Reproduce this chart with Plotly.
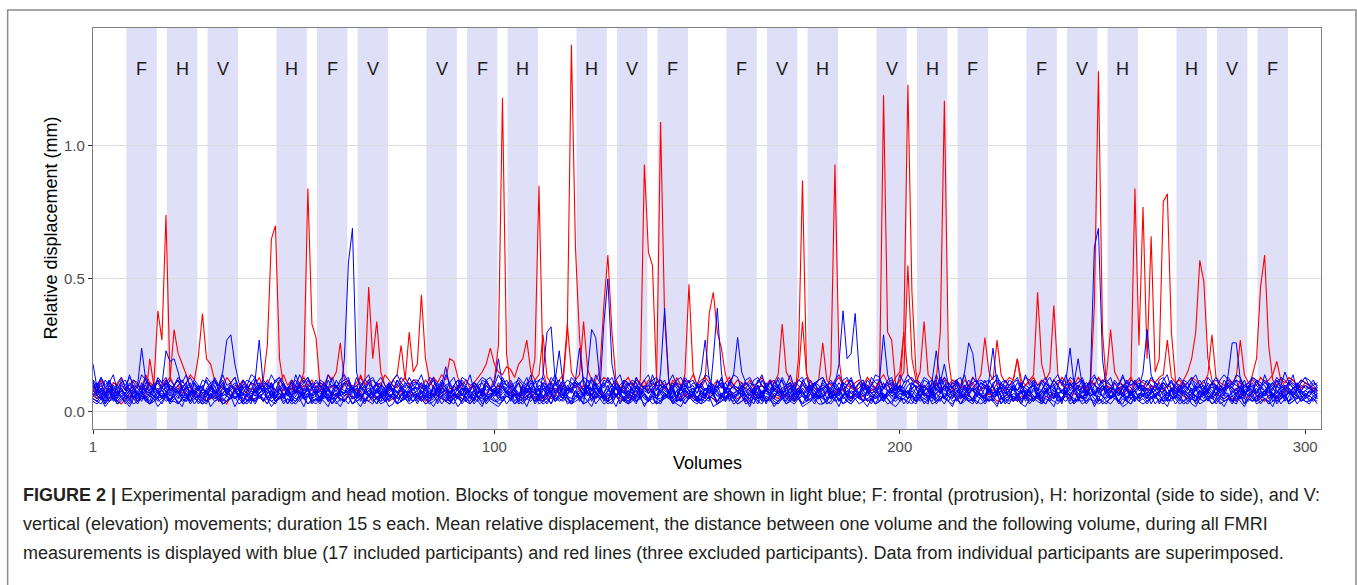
import plotly.graph_objects as go

# ---------------- data (relative displacement, in hundredths of mm) ----------------
block_starts = [9.25, 19.25, 29.25, 46.25, 56.25, 66.25, 83.25, 93.25, 103.25,
                120.25, 130.25, 140.25, 157.25, 167.25, 177.25, 194.25, 204.25, 214.25,
                231.25, 241.25, 251.25, 268.25, 278.25, 288.25]
block_labels = ["F", "H", "V", "H", "F", "V", "V", "F", "H", "H", "V", "F",
                "F", "V", "H", "V", "H", "F", "F", "V", "H", "H", "V", "F"]
block_len = 7.5

x_ticks = [1, 100, 200, 300]
y_ticks = [0.0, 0.5, 1.0]
y_tick_text = ["0.0", "0.5", "1.0"]

red1 = [7,5,6,4,5,6,4,3,5,6,5,4,6,5,20,10,38,27,74,12,
        31,22,18,14,9,6,5,7,4,5,6,4,5,3,6,5,7,4,6,5,
        5,6,4,7,8,6,5,9,6,12,8,10,15,84,33,28,10,6,5,7,
        6,5,4,7,5,6,8,5,4,6,5,7,6,4,5,6,8,5,6,7,
        5,6,4,5,7,6,5,4,6,5,7,5,4,6,5,8,6,7,9,12,
        25,118,22,9,6,7,5,6,8,5,6,4,7,5,6,9,12,30,138,62,
        28,10,7,6,5,8,6,5,7,6,5,4,6,5,7,9,12,8,8,10,
        109,35,12,8,6,5,7,5,6,4,5,7,6,5,4,6,5,7,6,5,
        6,4,5,7,5,6,4,5,6,5,7,6,5,4,20,87,15,8,6,5,
        6,7,15,93,20,8,6,5,7,5,6,4,5,7,10,119,30,27,10,8,
        30,123,45,15,8,6,7,9,12,30,117,20,9,6,5,7,6,5,8,6,
        5,7,6,4,5,6,8,5,4,6,5,7,5,6,4,6,5,7,6,5,
        6,5,7,6,5,8,9,40,128,30,10,8,6,9,7,8,12,84,25,77,
        20,66,15,20,79,82,30,12,8,6,5,7,6,5,8,6,5,7,6,5,
        6,5,4,7,6,5,8,6,5,4,6,7,5,6,8,7,9,10,9,10,
        9,8,8]

red2 = [9,7,8,6,10,8,7,9,6,8,7,10,9,8,11,9,8,10,12,9,
        8,10,7,9,8,6,9,7,8,10,8,7,9,8,6,9,10,8,7,9,
        8,10,12,25,65,70,20,10,8,9,7,8,10,9,8,7,9,11,8,10,
        9,8,10,12,9,8,14,10,47,20,34,15,10,9,12,14,25,12,30,15,
        18,44,20,12,9,8,10,7,9,8,10,9,7,8,10,9,8,11,9,8,
        10,9,8,7,9,11,8,10,12,20,85,15,10,8,9,7,10,8,9,11,
        8,10,9,8,12,15,40,59,30,12,9,8,10,11,9,12,93,60,55,12,
        10,9,8,12,10,9,14,48,15,10,9,12,37,45,30,24,14,10,9,8,
        10,9,8,7,9,10,8,12,9,8,7,9,10,8,9,11,8,10,9,8,
        9,10,8,7,9,8,10,9,8,11,9,10,8,9,12,9,10,8,9,12,
        15,55,20,12,9,10,8,9,11,8,10,9,8,12,9,10,8,11,9,8,
        10,9,8,11,9,8,10,12,20,9,10,12,14,45,18,12,15,40,14,10,
        9,11,8,10,9,8,12,10,9,8,10,9,11,8,10,9,8,12,9,10,
        8,10,9,11,8,10,9,8,10,12,15,20,30,57,49,20,12,10,9,8,
        10,9,8,12,10,9,14,20,47,59,25,12,10,13,9,11,12,10,9,11,
        10,9,8]

red3 = [10,8,12,9,7,11,10,13,9,8,12,10,9,14,11,10,12,9,11,13,
        10,12,9,11,14,12,21,37,20,18,12,10,9,13,11,8,10,12,9,11,
        10,13,9,12,10,8,11,14,10,12,9,11,13,10,12,9,11,10,14,12,
        15,26,12,10,9,11,13,10,12,9,11,10,14,12,10,9,11,13,10,12,
        11,9,12,10,13,11,14,12,20,19,13,10,12,9,11,13,15,18,24,18,
        15,14,17,16,13,18,20,27,15,12,14,29,13,11,10,12,14,33,15,12,
        14,34,16,12,10,11,13,12,10,12,9,11,13,10,12,11,9,12,10,11,
        12,10,11,9,13,10,12,11,14,10,12,13,11,10,12,9,11,13,10,12,
        11,10,12,9,11,13,10,12,11,14,33,15,12,10,13,34,14,11,10,12,
        26,12,10,11,13,10,12,9,11,12,10,13,11,9,12,14,11,10,13,15,
        30,14,12,11,15,34,14,12,10,11,13,10,12,11,9,12,10,13,11,14,
        28,15,12,27,14,11,13,12,20,12,10,11,13,10,12,11,9,12,10,13,
        11,12,10,13,11,9,12,10,13,11,14,31,15,12,10,11,13,10,12,11,
        10,12,11,13,14,27,13,11,12,10,11,13,12,10,11,14,29,13,11,10,
        12,11,13,27,14,11,12,10,13,11,12,14,19,12,11,13,12,10,12,11,
        10,9,8]

blue1 = [18,9,7,6,8,5,7,9,6,8,5,7,6,9,8,6,7,5,8,6,
         7,9,6,5,8,7,6,9,7,5,8,6,7,9,6,8,5,7,6,8,
         6,7,9,5,8,6,7,5,9,6,8,7,5,6,9,7,8,6,5,7,
         8,6,20,56,69,15,9,7,6,8,5,7,9,6,7,8,5,6,9,7,
         6,8,7,5,9,6,7,8,5,7,6,9,8,6,5,7,8,6,9,7,
         5,7,8,6,9,7,6,5,8,7,9,6,7,8,5,6,9,7,8,6,
         7,6,8,9,5,7,6,8,7,9,6,5,8,7,6,9,7,5,8,6,
         9,7,5,8,6,7,9,6,8,5,7,6,9,8,6,7,5,8,7,6,
         8,6,7,9,5,8,7,6,9,7,8,5,6,7,9,6,8,7,5,9,
         6,8,7,5,9,6,8,7,6,5,8,9,7,6,8,5,7,9,6,8,
         7,5,8,6,9,7,6,8,5,7,9,6,8,7,5,6,9,8,7,6,
         5,8,7,9,6,7,8,5,6,9,7,8,6,5,7,9,6,8,7,5,
         8,6,9,7,5,8,6,7,9,6,5,8,7,9,6,7,8,5,6,9,
         7,9,6,8,7,5,9,6,8,7,6,5,9,7,8,6,5,7,9,6,
         6,7,9,5,8,6,7,9,6,8,5,7,6,8,9,7,6,5,8,7,
         6,8,7]

blue2 = [12,6,5,7,4,6,8,5,4,7,6,5,8,4,6,5,7,6,4,5,
         6,8,5,4,7,5,6,4,8,6,5,7,4,6,5,8,6,4,7,5,
         4,6,7,5,8,4,6,5,7,4,6,8,5,7,4,5,6,8,4,6,
         7,5,4,6,8,5,7,4,6,5,8,6,4,7,5,6,4,8,5,7,
         5,7,6,4,5,8,6,7,4,5,6,4,7,5,8,6,5,4,7,6,
         8,4,6,5,7,4,8,6,5,7,4,6,5,8,4,7,6,5,4,8,
         6,5,8,4,7,6,5,4,8,6,7,5,4,6,8,5,7,4,6,5,
         4,7,5,6,8,4,6,7,5,4,8,6,5,7,4,6,5,8,6,4,
         7,6,4,8,5,7,4,6,5,8,6,4,7,5,6,8,4,5,7,6,
         5,4,7,6,8,5,6,4,7,5,4,8,6,5,7,4,6,8,5,7,
         6,8,5,4,6,7,5,8,4,6,5,7,8,4,6,5,7,4,8,6,
         4,5,7,8,6,4,5,7,6,8,4,6,5,7,4,8,6,5,7,4,
         7,6,5,4,8,6,12,62,69,20,8,5,6,4,7,5,8,6,4,7,
         5,8,6,7,4,5,8,6,4,7,6,5,4,8,6,7,5,4,6,8,
         6,4,7,5,8,6,4,5,7,6,8,4,5,7,6,4,8,6,5,7,
         6,5,7]

blue3 = [10,8,11,7,9,6,10,8,7,11,9,6,8,10,7,9,11,8,6,10,
         9,7,10,8,6,11,9,7,8,10,6,9,11,7,8,10,9,6,8,11,
         7,10,8,9,11,6,8,10,7,9,8,11,6,10,9,7,8,11,9,6,
         10,8,7,11,9,6,10,8,9,7,11,8,6,9,10,7,8,11,9,10,
         8,11,9,6,10,7,9,8,11,6,9,10,7,8,11,9,6,10,8,7,
         11,9,7,10,8,6,9,11,8,7,10,9,6,11,8,10,7,9,8,11,
         9,6,10,8,11,7,33,50,18,10,8,11,9,7,10,6,9,8,11,10,
         7,10,8,11,9,6,10,8,7,9,11,8,10,6,9,11,7,8,10,9,
         11,8,9,7,10,6,11,9,8,10,7,9,11,6,8,10,9,7,11,8,
         9,10,7,8,11,9,6,10,8,7,11,9,10,8,6,9,11,7,10,8,
         8,7,11,9,10,6,8,11,9,7,10,8,9,11,6,10,7,9,8,11,
         10,9,6,8,11,7,10,9,8,11,6,9,10,7,8,11,9,10,6,8,
         7,11,9,10,8,6,9,11,7,10,8,9,6,11,10,8,7,9,11,8,
         9,8,10,7,11,9,6,10,8,11,9,7,10,8,6,11,9,10,7,9,
         11,9,8,10,6,9,11,7,10,8,9,11,8,6,10,9,7,11,8,10,
         9,8,10]

blue4 = [5,4,6,3,7,5,4,6,3,5,7,4,6,5,3,4,6,7,5,4,
         6,3,5,7,4,6,5,3,4,7,5,6,3,4,6,5,7,4,3,5,
         4,6,5,3,7,4,5,6,3,5,4,7,6,3,5,4,6,5,7,3,
         5,7,4,6,3,5,6,4,7,5,3,6,4,5,7,3,4,6,5,4,
         7,5,3,4,6,7,5,4,3,6,5,4,7,6,3,5,4,6,7,5,
         3,4,6,5,7,3,4,5,6,4,7,5,3,6,4,5,7,3,4,6,
         5,6,4,7,3,5,6,4,5,7,3,6,4,5,3,7,5,4,6,3,
         15,39,12,5,4,6,3,5,7,4,6,5,4,20,39,15,4,7,5,3,
         4,6,5,3,7,4,5,6,4,3,5,7,6,4,5,3,6,4,7,5,
         6,3,4,7,5,6,4,3,5,6,7,4,5,3,6,4,7,5,4,6,
         3,5,7,4,6,3,5,4,7,5,6,4,3,5,7,6,4,5,3,6,
         5,4,6,7,3,5,4,6,5,3,7,4,6,5,4,3,6,7,5,4,
         7,6,3,5,4,6,7,5,3,4,6,5,7,4,3,6,5,4,7,6,
         4,5,7,3,6,4,5,7,6,4,3,5,4,6,7,5,3,4,6,5,
         6,4,5,6,3,7,5,4,6,5,4,7,3,5,6,4,5,7,4,6,
         5,4,6]

blue5 = [8,6,9,7,5,10,8,6,7,9,5,8,10,7,6,9,8,5,7,10,
         9,7,5,8,10,6,9,7,8,5,10,6,7,9,8,5,6,10,8,7,
         6,9,8,10,5,7,9,6,8,7,10,5,9,8,6,7,10,9,5,8,
         10,8,6,7,9,5,8,10,6,9,7,8,5,10,7,6,9,8,10,6,
         7,5,10,9,6,8,7,9,5,10,8,6,7,9,10,5,8,6,9,7,
         9,10,7,5,8,6,10,7,9,8,5,9,6,10,8,7,5,9,7,10,
         5,8,9,6,10,7,5,8,10,6,9,7,8,5,6,10,9,7,8,5,
         8,7,6,10,5,9,8,7,6,10,8,5,9,7,10,6,8,9,5,7,
         10,6,8,7,9,5,10,8,6,7,9,10,5,8,6,9,7,10,8,6,
         7,9,5,10,18,38,20,22,37,15,8,6,9,7,10,5,8,9,6,10,
         8,5,9,7,6,10,8,5,9,7,10,6,8,9,5,7,10,8,6,9,
         6,10,7,8,9,5,6,10,8,7,5,9,10,6,8,7,9,5,10,8,
         9,7,8,5,10,6,9,7,8,10,6,5,8,9,7,10,6,8,5,9,
         5,8,10,9,6,7,8,5,10,9,7,8,6,5,9,10,8,7,9,6,
         10,6,7,8,5,9,10,6,7,8,9,5,10,8,6,7,9,10,6,8,
         7,9,8]

blue6 = [9,11,8,12,10,7,9,11,12,8,10,9,7,11,10,8,12,9,11,7,
         10,12,8,9,11,7,10,9,12,8,11,10,15,27,29,18,11,9,10,8,
         12,9,10,7,11,8,12,10,9,11,7,10,12,8,9,11,10,7,12,9,
         8,10,11,12,9,7,10,8,11,12,10,9,7,11,8,12,9,10,11,8,
         11,7,9,10,12,8,11,9,7,10,12,11,8,9,10,7,12,11,9,10,
         7,12,10,8,9,11,7,10,12,9,8,11,10,7,12,9,11,8,10,12,
         10,8,12,11,7,9,10,12,8,11,9,7,10,12,11,8,9,10,7,11,
         12,9,7,10,11,8,12,9,10,7,11,12,8,10,9,11,7,12,10,9,
         9,11,10,8,12,10,9,7,11,12,8,10,11,9,7,12,10,8,11,10,
         8,10,12,9,7,11,10,12,8,9,11,7,10,12,12,29,14,9,11,8,
         11,12,9,10,8,12,11,7,10,9,12,8,11,10,7,9,12,10,8,11,
         10,7,11,12,9,10,8,11,12,7,10,9,11,8,12,10,7,9,11,12,
         7,9,10,11,12,8,7,10,9,12,11,10,8,7,9,12,10,11,8,9,
         12,10,8,9,11,10,12,9,7,10,8,12,11,9,10,7,11,12,10,8,
         9,11,12,7,10,9,8,12,11,10,7,9,12,10,8,11,9,10,12,11,
         10,8,9]

blue7 = [6,8,5,7,9,4,6,8,7,5,9,6,4,8,7,6,5,9,8,4,
         7,5,9,6,4,8,7,5,6,9,8,4,7,6,5,9,8,7,4,6,
         9,6,4,7,8,5,9,6,7,4,8,9,5,6,7,8,4,9,6,5,
         5,8,7,9,6,4,5,7,8,6,9,5,8,4,7,6,9,5,8,7,
         8,4,6,5,7,9,8,6,4,7,5,8,9,6,4,7,8,5,6,9,
         6,9,7,8,4,6,5,9,7,8,6,14,30,32,12,7,9,6,5,8,
         4,7,9,6,8,5,7,4,9,6,8,7,5,9,4,6,8,7,9,5,
         7,5,8,4,6,9,7,8,5,6,4,9,7,8,6,5,9,4,7,8,
         9,6,5,8,7,4,9,6,8,7,5,6,9,4,8,7,6,9,5,7,
         5,8,9,7,4,6,8,5,9,7,6,8,4,7,9,5,6,8,7,4,
         8,7,6,5,9,8,4,6,7,9,5,8,6,7,9,15,26,22,10,6,
         6,9,4,7,8,5,6,9,7,4,8,6,9,5,7,8,4,6,9,7,
         7,4,8,9,5,7,6,8,4,9,7,5,8,6,9,4,7,8,5,6,
         9,5,7,6,8,4,9,7,5,8,6,9,4,7,5,8,6,9,7,4,
         5,8,6,9,7,8,5,4,8,6,9,7,5,8,4,6,9,7,8,5,
         8,6,7]

blue8 = [5,4,3,6,4,5,3,4,6,5,3,4,5,6,3,4,5,3,6,4,
         4,3,5,4,6,3,5,4,3,6,4,5,3,4,5,6,3,4,5,3,
         12,27,10,5,4,3,6,4,5,3,4,6,5,3,4,5,3,6,4,5,
         3,5,4,6,3,4,5,3,6,4,5,3,4,6,5,3,4,5,6,4,
         6,4,5,3,4,6,3,5,4,3,6,5,4,3,5,4,6,3,5,4,
         4,6,3,5,6,4,3,5,4,6,3,4,5,3,6,4,5,4,3,6,
         5,3,15,31,28,12,5,4,3,6,4,5,3,4,6,5,3,4,5,3,
         4,5,6,3,4,5,3,6,4,5,3,4,6,5,3,4,5,6,3,4,
         6,3,4,5,3,6,4,5,3,4,6,3,5,4,6,3,4,5,3,6,
         3,5,6,4,5,3,4,6,5,3,4,5,3,6,4,5,3,4,6,5,
         5,4,3,6,4,5,6,3,4,5,3,6,4,5,3,4,6,5,4,3,
         4,6,5,3,5,4,3,6,4,5,6,3,5,4,3,6,5,4,3,5,
         6,3,4,5,6,3,5,4,6,3,4,5,6,3,5,4,3,6,4,5,
         3,5,6,4,3,5,4,6,5,3,4,6,3,5,4,5,6,3,5,4,
         5,4,3,6,5,4,6,3,4,5,3,6,4,5,6,3,4,5,6,4,
         4,5,3]

blue9 = [11,8,10,7,12,9,6,11,8,10,9,10,24,12,8,11,7,9,12,10,
         8,10,12,9,7,11,8,10,6,9,12,8,11,7,10,9,6,12,8,11,
         10,7,9,11,8,12,10,6,9,11,7,10,8,12,9,6,11,10,8,7,
         12,9,11,8,10,7,9,12,11,6,8,10,9,11,7,12,10,8,6,9,
         9,11,6,10,12,8,11,9,7,10,12,6,9,8,11,10,7,12,9,8,
         7,10,12,9,8,11,6,10,9,12,8,11,7,9,10,12,8,6,11,10,
         11,8,9,12,10,7,11,8,10,9,6,12,10,11,8,7,9,10,12,8,
         10,12,7,9,11,10,8,12,6,11,9,8,10,7,12,9,11,8,10,9,
         8,9,11,10,7,12,9,8,11,10,12,7,9,10,6,11,8,12,9,7,
         12,10,8,11,9,6,10,12,8,9,11,10,7,8,12,9,10,11,7,10,
         9,7,10,12,11,8,9,10,12,7,10,9,11,12,8,10,6,9,11,12,
         11,12,9,7,10,9,12,11,8,10,9,7,12,10,11,8,9,12,10,7,
         8,10,11,9,12,7,10,8,9,11,12,10,8,7,9,11,10,12,9,15,
         31,14,10,8,11,9,12,7,10,9,11,8,10,12,9,7,11,10,8,12,
         10,9,12,11,8,10,7,12,9,11,10,8,12,9,7,10,11,9,8,10,
         9,11,10]

blue10 = [7,6,8,5,9,7,6,8,5,7,9,6,8,5,7,6,8,10,23,19,
          20,15,9,6,8,7,5,9,6,8,7,5,9,7,6,8,5,9,7,6,
          8,5,7,9,6,8,7,5,9,6,8,7,6,9,5,8,7,6,9,5,
          6,9,8,7,5,6,9,8,7,5,9,6,8,7,9,5,6,8,7,9,
          9,7,5,8,6,9,7,5,8,6,7,9,5,8,6,7,9,6,5,8,
          5,8,9,6,7,5,8,9,6,7,8,5,9,6,8,7,5,9,8,6,
          7,9,6,8,9,7,5,6,8,9,7,8,5,6,9,8,7,5,6,9,
          8,6,7,5,8,9,6,7,9,5,8,6,7,9,8,5,9,6,7,8,
          6,7,9,8,5,6,8,7,5,9,6,7,9,8,5,7,6,9,8,5,
          9,5,8,6,7,9,5,8,7,6,9,8,6,5,7,9,8,6,7,8,
          7,8,6,9,5,8,9,6,7,8,5,9,7,6,8,5,7,9,6,7,
          5,9,7,6,8,7,6,9,5,8,7,6,8,9,5,7,9,8,6,5,
          8,6,9,7,6,5,9,7,8,6,9,5,7,8,6,9,5,7,9,8,
          6,7,5,8,9,7,6,5,9,8,7,6,9,5,7,8,6,9,5,7,
          14,26,26,12,7,9,6,8,5,7,9,6,8,7,5,9,6,8,7,6,
          8,7,6]

blue11 = [4,3,5,2,4,6,3,5,4,2,5,3,6,4,3,5,2,4,6,3,
          5,4,2,6,3,5,4,3,6,2,4,5,3,4,6,2,5,3,4,5,
          3,6,4,5,2,4,6,3,5,4,3,5,2,6,4,3,5,4,2,6,
          4,2,5,3,6,4,2,5,4,3,6,4,5,2,3,6,4,5,3,4,
          6,5,3,4,2,5,6,4,3,5,2,4,6,3,5,4,2,6,4,3,
          2,4,6,5,3,4,5,2,6,4,5,3,4,6,12,23,10,5,3,4,
          5,3,4,2,6,5,3,4,5,2,6,4,3,5,4,6,2,5,3,4,
          3,6,5,4,3,2,5,6,4,3,5,4,6,2,3,5,4,6,5,3,
          4,5,2,6,4,3,6,5,2,4,5,3,4,6,5,2,3,4,6,5,
          6,4,3,5,2,6,4,3,5,6,4,2,5,3,4,6,5,3,2,4,
          5,3,6,4,5,4,3,12,23,11,5,4,2,6,3,5,4,3,6,5,
          3,5,4,2,6,3,5,4,6,3,2,5,4,6,3,5,4,2,6,3,
          12,24,10,5,3,4,6,2,5,4,3,6,5,4,2,3,5,6,4,3,
          4,6,3,5,4,2,6,3,5,4,6,3,2,5,4,6,3,5,4,2,
          5,3,6,4,2,5,4,6,3,5,4,2,6,3,5,4,6,3,5,4,
          3,5,4]

blue12 = [11,9,13,10,12,8,11,13,9,10,12,11,8,13,10,9,12,11,13,8,
          10,12,9,11,13,10,8,12,11,9,13,10,12,8,11,13,9,10,12,11,
          13,8,11,10,9,12,13,11,8,10,12,9,11,13,10,8,12,11,9,13,
          9,11,12,13,8,10,11,9,12,13,10,11,8,9,12,10,13,11,9,12,
          12,10,8,11,13,9,12,10,11,8,9,13,12,10,11,9,8,12,13,10,
          8,13,10,9,11,12,10,13,8,11,12,10,9,13,11,8,10,12,11,9,
          11,12,9,13,10,8,12,11,13,9,10,12,11,8,13,10,9,11,12,13,
          10,9,11,8,12,13,10,9,11,10,15,27,12,10,9,13,8,11,14,28,
          15,11,9,12,13,10,8,11,12,9,13,10,11,8,12,13,9,10,11,12,
          13,10,11,9,8,12,13,10,9,11,12,8,13,11,10,9,12,13,8,10,
          9,12,13,11,10,9,11,12,8,13,10,11,9,12,13,8,10,11,12,9,
          12,8,10,13,11,12,9,8,11,10,13,12,10,9,8,11,13,10,12,11,
          10,13,12,8,9,11,10,13,12,11,8,9,12,10,13,11,9,8,10,12,
          11,9,8,12,13,10,11,9,8,12,11,13,9,10,12,8,11,13,10,9,
          13,11,10,9,12,8,13,11,10,12,9,10,13,11,8,12,10,9,11,13,
          12,10,11]

blue13 = [6,5,7,4,8,6,5,7,6,4,8,5,7,6,4,8,5,6,7,4,
          8,6,4,5,7,8,6,5,4,7,6,8,5,4,6,7,8,5,6,4,
          5,7,8,6,4,5,7,6,8,5,4,6,7,8,5,6,4,7,8,6,
          7,4,6,8,5,7,4,8,6,7,5,4,8,6,7,5,6,8,4,7,
          4,8,5,7,6,4,10,17,9,8,5,7,4,6,8,5,7,4,6,8,
          6,5,8,4,7,6,5,8,7,4,6,5,8,7,4,6,5,7,8,12,
          24,11,7,5,6,8,4,7,5,6,8,4,7,6,5,8,6,4,7,5,
          5,7,6,8,4,5,8,6,7,4,5,7,8,6,4,7,5,8,6,7,
          8,4,7,5,6,8,5,4,7,6,8,5,4,7,8,6,5,7,4,6,
          6,8,5,7,4,6,7,5,8,6,4,8,7,5,6,4,8,6,5,7,
          7,5,6,4,8,7,6,8,5,4,7,6,5,8,6,7,4,5,8,6,
          4,12,24,10,5,6,8,4,7,5,6,8,4,7,5,8,6,7,4,5,
          8,6,4,7,5,8,6,7,4,5,8,6,7,4,6,5,8,4,7,6,
          5,7,8,6,4,7,5,6,8,7,4,5,6,8,7,4,6,5,8,7,
          7,4,6,5,8,6,7,4,5,8,6,7,4,6,5,8,7,6,4,5,
          6,8,5]

blue14 = [8,7,9,6,10,8,7,9,6,8,10,7,9,8,6,10,7,8,9,6,
          9,8,6,10,7,9,8,6,7,10,8,9,6,7,10,8,9,7,6,8,
          7,10,8,9,6,7,10,8,9,6,10,7,8,9,6,10,8,7,9,10,
          10,6,7,8,9,10,6,7,8,9,7,10,6,8,9,7,10,6,8,9,
          6,9,10,7,8,6,9,10,7,8,9,6,10,7,8,9,6,10,8,11,
          20,10,8,7,9,6,10,8,9,7,6,10,8,9,7,10,6,8,9,7,
          8,7,10,6,9,8,7,10,6,9,8,10,7,6,9,8,10,7,9,6,
          9,10,8,7,6,9,10,8,7,10,6,9,8,10,7,6,9,8,10,7,
          7,8,6,9,10,7,8,6,10,9,7,8,10,6,9,7,8,10,6,9,
          10,9,7,8,6,10,9,7,8,6,10,9,7,8,10,6,7,9,8,10,
          6,7,9,10,8,6,7,9,10,11,18,10,9,8,6,10,7,9,8,6,
          9,8,10,6,7,9,8,10,6,7,8,9,10,7,6,8,10,9,7,8,
          8,10,11,20,10,7,9,6,8,10,7,9,8,6,10,9,7,8,10,6,
          7,9,6,8,10,7,9,8,6,10,9,7,8,10,6,9,7,10,8,9,
          10,8,7,9,6,10,8,7,9,8,10,6,7,9,10,8,6,9,7,8,
          9,7,8]

blue15 = [5,4,6,3,5,7,4,6,5,3,6,4,7,5,3,6,4,5,7,4,
          6,3,5,7,4,6,3,5,4,7,5,6,3,4,6,5,7,3,4,6,
          4,7,5,3,6,4,5,7,3,6,5,4,6,7,3,5,4,6,5,3,
          7,5,4,6,3,5,7,4,6,5,3,7,4,5,6,3,7,5,4,6,
          3,6,5,4,7,3,6,4,5,7,6,3,5,4,7,6,3,5,6,4,
          5,4,7,6,3,5,4,6,7,3,5,4,6,3,7,5,4,6,3,5,
          6,3,4,5,7,6,5,3,4,6,7,5,3,6,4,5,7,4,6,3,
          4,6,7,3,5,4,6,5,7,4,3,6,5,7,3,4,6,5,4,7,
          7,5,3,6,4,7,3,6,5,4,6,7,4,3,5,6,4,7,5,3,
          3,4,6,5,7,3,5,4,6,7,4,5,6,3,4,7,5,3,6,5,
          5,7,4,3,6,5,4,7,3,5,6,4,7,5,3,6,5,4,7,6,
          6,4,5,7,3,6,7,4,5,3,7,5,4,6,5,3,6,7,4,5,
          4,6,3,5,6,4,5,3,7,6,4,3,5,7,6,4,3,5,6,7,
          7,3,6,4,5,7,6,5,3,4,5,7,6,3,4,5,7,6,3,4,
          5,6,4,7,3,5,4,6,7,5,3,4,6,5,7,3,4,6,5,7,
          4,6,5]

blue16 = [8,10,6,9,11,7,5,10,8,14,9,6,11,8,10,7,9,5,11,8,
          10,7,9,11,6,8,10,5,9,11,7,8,10,6,9,11,8,7,10,5,
          9,11,7,8,10,5,9,11,6,8,14,10,7,9,11,8,5,10,9,7,
          6,8,11,10,7,9,5,8,11,9,10,7,6,11,8,10,9,5,7,11,
          11,9,8,5,10,11,7,9,6,10,8,11,9,7,5,10,11,8,9,6,
          7,10,9,11,8,6,10,7,11,9,5,8,10,11,7,9,6,10,8,11,
          9,6,10,8,11,9,7,10,5,11,8,9,6,10,11,7,9,8,14,10,
          10,8,7,9,5,10,11,8,9,7,10,6,11,9,8,10,7,11,9,8,
          8,11,9,6,10,7,9,11,8,10,6,9,7,11,10,8,5,9,11,7,
          11,9,5,10,8,11,6,10,9,7,11,8,10,9,6,11,8,7,10,9,
          7,10,11,9,6,8,10,7,11,9,8,10,5,11,9,7,10,8,9,11,
          9,8,10,7,11,9,5,10,8,11,7,9,10,6,8,11,9,10,7,8,
          10,11,8,9,7,10,11,6,9,8,10,7,11,9,10,8,6,11,9,10,
          8,7,11,10,9,6,8,11,10,7,9,11,8,10,7,9,11,6,10,8,
          11,9,7,8,10,11,9,10,8,6,11,9,7,10,15,11,9,8,10,9,
          9,10,8]

blue17 = [12,10,13,9,11,14,8,12,10,13,11,9,14,12,10,8,13,11,9,12,
          10,13,11,14,9,12,10,8,13,11,12,9,14,10,11,13,8,12,10,14,
          13,9,12,10,14,11,13,9,8,12,10,14,11,13,9,12,10,8,14,11,
          9,12,14,11,8,13,10,12,14,9,11,13,10,8,12,14,11,9,13,10,
          11,14,9,13,12,10,8,14,11,13,9,12,10,14,8,11,13,12,9,10,
          14,11,10,12,9,13,11,10,14,8,12,13,9,11,14,10,12,8,13,11,
          10,13,12,8,14,11,9,13,10,12,14,9,11,8,13,10,12,14,9,11,
          12,9,11,14,10,8,13,11,12,9,10,14,13,8,11,12,9,10,14,13,
          8,12,13,10,11,14,9,12,8,13,11,10,14,9,12,11,13,8,10,12,
          13,10,9,12,14,11,10,13,9,11,8,12,10,14,13,9,11,12,8,14,
          11,14,12,9,10,13,12,8,14,10,13,11,9,12,10,14,8,13,11,9,
          9,11,13,14,8,12,10,11,13,9,14,10,12,8,11,13,9,12,14,10,
          14,8,10,11,13,9,12,14,10,12,11,13,8,10,14,9,12,11,13,8,
          10,13,11,9,12,14,8,10,13,11,9,12,14,10,8,13,11,9,12,14,
          12,10,14,13,9,11,13,12,8,14,10,11,9,13,12,10,14,8,11,13,
          10,12,9]

red_series = [red1, red2, red3]
blue_series = [blue1, blue2, blue3, blue4, blue5, blue6, blue7, blue8, blue9,
               blue10, blue11, blue12, blue13, blue14, blue15, blue16, blue17]

# ---------------- figure ----------------
FONT = "Liberation Sans, Arial, Helvetica, sans-serif"
fig = go.Figure()

for s in red_series:
    fig.add_trace(go.Scatter(x=list(range(1, len(s) + 1)), y=[v / 100 for v in s],
                             mode="lines", line=dict(color="#ff0000", width=1.1),
                             hoverinfo="skip", showlegend=False))
for s in blue_series:
    fig.add_trace(go.Scatter(x=list(range(1, len(s) + 1)), y=[v / 100 for v in s],
                             mode="lines", line=dict(color="#0000ff", width=1.0),
                             hoverinfo="skip", showlegend=False))

for start, lab in zip(block_starts, block_labels):
    fig.add_vrect(x0=start, x1=start + block_len, fillcolor="#dfdff8", opacity=1,
                  line_width=0, layer="below")
    fig.add_annotation(x=start + block_len / 2, y=1.29, text=lab, showarrow=False,
                       font=dict(family=FONT, size=18, color="#1a1a1a"))

# outer figure frame
fig.add_shape(type="rect", xref="paper", yref="paper", x0=-0.0695, x1=1.0285,
              y0=-0.45, y1=1.045, line=dict(color="#8a8a8a", width=1.5), layer="above")

# axis titles
fig.add_annotation(xref="paper", yref="paper", x=-0.035, y=0.5, text="Relative displacement (mm)",
                   textangle=-90, showarrow=False, xanchor="center", yanchor="middle",
                   font=dict(family=FONT, size=18, color="#000000"))
fig.add_annotation(xref="paper", yref="paper", x=0.5, y=-0.085, text="Volumes",
                   showarrow=False, xanchor="center", yanchor="middle",
                   font=dict(family=FONT, size=18, color="#000000"))

caption = [
    "<b>FIGURE 2 |</b> Experimental paradigm and head motion. Blocks of tongue movement are shown in light blue; F: frontal (protrusion), H: horizontal (side to side), and V:",
    "vertical (elevation) movements; duration 15 s each. Mean relative displacement, the distance between one volume and the following volume, during all FMRI",
    "measurements is displayed with blue (17 included participants) and red lines (three excluded participants). Data from individual participants are superimposed.",
]
for i, line in enumerate(caption):
    fig.add_annotation(xref="paper", yref="paper", x=-0.0584, y=-0.1638 - 0.0723 * i, text=line,
                       showarrow=False, xanchor="left", yanchor="middle",
                       font=dict(family=FONT, size=18, color="#231f20"))

fig.update_layout(
    width=1357, height=585,
    margin=dict(l=93, r=36, t=28, b=156),
    paper_bgcolor="white", plot_bgcolor="white",
    xaxis=dict(range=[1, 303.9], tickvals=x_ticks, ticks="outside", ticklen=4,
               tickcolor="#333333", showgrid=False, zeroline=False, showline=True,
               mirror=True, linecolor="#7f7f7f", linewidth=1.3,
               tickfont=dict(family=FONT, size=15, color="#4d4d4d")),
    yaxis=dict(range=[-0.064, 1.443], tickvals=y_ticks, ticktext=y_tick_text,
               ticks="outside", ticklen=4, tickcolor="#333333", showgrid=True,
               gridcolor="#dcdcdc", gridwidth=1, zeroline=False, showline=True,
               mirror=True, linecolor="#7f7f7f", linewidth=1.3,
               tickfont=dict(family=FONT, size=15, color="#4d4d4d")),
)

fig.write_html("out.html")
